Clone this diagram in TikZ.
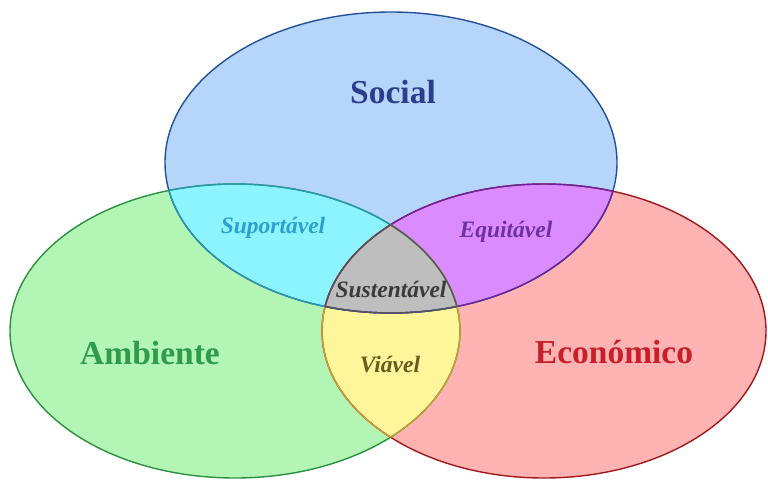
\documentclass[tikz,border=0pt]{standalone}
\usepackage{fontspec}
\setmainfont{Liberation Serif}
\usepackage{xcolor}

% region fills
\definecolor{socialfill}{HTML}{B5D6FA}
\definecolor{ambfill}{HTML}{B2F5B4}
\definecolor{ecofill}{HTML}{FFB3B3}
\definecolor{cyanfill}{HTML}{8CF4FF}
\definecolor{purplefill}{HTML}{DA8CFF}
\definecolor{yellowfill}{HTML}{FFF59A}
\definecolor{greyfill}{HTML}{BEBEBE}
% outlines
\definecolor{socialline}{HTML}{22509A}
\definecolor{ambline}{HTML}{2C9040}
\definecolor{ecoline}{HTML}{A0181E}
\definecolor{tealline}{HTML}{2A98B0}
\definecolor{purpline}{HTML}{6A24A0}
\definecolor{goldline}{HTML}{C8A030}
\definecolor{greyline}{HTML}{555555}
% texts
\definecolor{socialtext}{HTML}{2B3D8C}
\definecolor{ambtext}{HTML}{2F9B4B}
\definecolor{ecotext}{HTML}{C8202A}
\definecolor{suptext}{HTML}{2F9FD0}
\definecolor{equtext}{HTML}{7030A0}
\definecolor{sustext}{HTML}{3A3A3A}
\definecolor{viatext}{HTML}{6A5A20}

\begin{document}
\begin{tikzpicture}[x=1pt,y=-1pt,line width=1.4pt,
    biglabel/.style={font=\fontsize{33.5}{36}\selectfont\bfseries,anchor=base},
    smalllabel/.style={font=\fontsize{23.5}{26}\selectfont\bfseries\itshape,anchor=base}]
    \useasboundingbox (0,0) rectangle (768,482);

    \def\social{(391,162.5) ellipse [x radius=226, y radius=150.5]}
    \def\ambiente{(235,331) ellipse [x radius=225, y radius=147]}
    \def\economico{(544,331) ellipse [x radius=222, y radius=147]}

    % fills
    \fill[socialfill] \social;
    \fill[ambfill] \ambiente;
    \fill[ecofill] \economico;
    \begin{scope}
        \clip \social;
        \fill[cyanfill] \ambiente;
        \fill[purplefill] \economico;
    \end{scope}
    \begin{scope}
        \clip \ambiente;
        \fill[yellowfill] \economico;
    \end{scope}
    \begin{scope}
        \clip \social;
        \clip \ambiente;
        \fill[greyfill] \economico;
    \end{scope}

    % outlines
    \draw[socialline] \social;
    \draw[ambline] \ambiente;
    \draw[ecoline] \economico;
    \begin{scope}
        \clip \ambiente;
        \draw[tealline] \social;
        \draw[goldline] \economico;
    \end{scope}
    \begin{scope}
        \clip \social;
        \draw[tealline] \ambiente;
        \draw[purpline] \economico;
    \end{scope}
    \begin{scope}
        \clip \economico;
        \draw[purpline] \social;
        \draw[goldline] \ambiente;
    \end{scope}
    \begin{scope}
        \clip \social;
        \clip \ambiente;
        \draw[greyline] \economico;
    \end{scope}
    \begin{scope}
        \clip \social;
        \clip \economico;
        \draw[greyline] \ambiente;
    \end{scope}
    \begin{scope}
        \clip \ambiente;
        \clip \economico;
        \draw[greyline] \social;
    \end{scope}

    % labels
    \node[biglabel,text=socialtext] (social) at (393,103) {Social};
    \node[biglabel,text=ambtext] (ambiente) at (150,364) {Ambiente};
    \node[biglabel,text=ecotext] (economico) at (614,363) {Económico};
    \node[smalllabel,text=suptext] (suportavel) at (273,233) {Suportável};
    \node[smalllabel,text=equtext] (equitavel) at (506,237) {Equitável};
    \node[smalllabel,text=sustext] (sustentavel) at (391,297) {Sustentável};
    \node[smalllabel,text=viatext] (viavel) at (390,372) {Viável};
\end{tikzpicture}
\end{document}
